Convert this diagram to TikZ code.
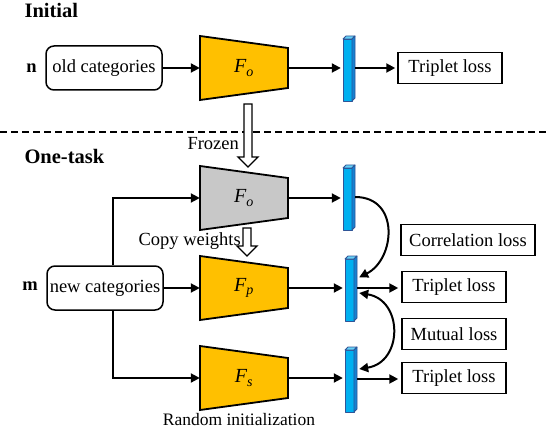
\documentclass[tikz,border=0pt]{standalone}
\usepackage{fontspec}
\setmainfont{Liberation Serif}
\usepackage{tikz}
\usetikzlibrary{arrows.meta, calc}
\definecolor{encyellow}{RGB}{255,192,0}
\definecolor{encgray}{RGB}{200,200,200}
\definecolor{barblue}{RGB}{0,176,240}
\definecolor{barside}{RGB}{20,130,210}
\definecolor{baredge}{RGB}{47,85,151}
\tikzset{%
    % encoder, feature bar and hollow arrow looks
    encoder/.style = {draw=black, line width=1.8pt, line join=miter},
    barface/.style = {draw=baredge, line width=0.8pt, line join=round},
    hollow/.style  = {draw=black, line width=1.4pt, fill=white, line join=miter},
    % Label style
    heading/.style = {font=\fontsize{20.5}{24}\selectfont\bfseries, anchor=base west},
    % boxes
    catbox/.style  = {draw, line width=1.5pt, rounded corners=8pt, minimum width=116,
    minimum height=44, inner sep=1pt},
    lossbox/.style = {draw, line width=1.5pt, minimum height=31, inner sep=0pt}
}
% encoder : name, x, y, colour, subscript
\newcommand{\encoder}[5]{%
    \filldraw[encoder, fill=#4] (#2-44,#3-32) -- (#2+44,#3-20) -- (#2+44,#3+20)
        -- (#2-44,#3+32) -- cycle;
    \node[inner sep=0pt, minimum width=88, minimum height=64,
        font=\fontsize{20}{24}\selectfont] (#1) at (#2,#3) {\textit{F}\textsubscript{\textit{#5}}};
}
% feature bar : name, x, y
\newcommand{\featbar}[3]{%
    \filldraw[barface, fill=barblue] (#2-6,#3-29) rectangle (#2+3,#3+33);
    \filldraw[barface, fill=barblue!60!white] (#2-6,#3-29) -- (#2-3,#3-32) -- (#2+6,#3-32)
        -- (#2+3,#3-29) -- cycle;
    \filldraw[barface, fill=barside] (#2+3,#3-29) -- (#2+6,#3-32) -- (#2+6,#3+30)
        -- (#2+3,#3+33) -- cycle;
    \node[inner sep=0pt, minimum width=12, minimum height=65] (#1) at (#2,#3) {};
}
% hollow down arrow : x, top, tip
\newcommand{\hollowdown}[3]{%
    \filldraw[hollow] (#1-4,#2) -- (#1+4,#2) -- (#1+4,#3-10) -- (#1+10,#3-10) -- (#1,#3)
        -- (#1-10,#3-10) -- (#1-4,#3-10) -- cycle;
}

\begin{document}
\begin{tikzpicture}[x=1pt, y=-1pt, font=\fontsize{18.5}{22}\selectfont]

	\tikzstyle{arc}=[-{Triangle[length=9pt,width=9pt]}, line width=2pt, black]
	\tikzstyle{arcs}=[{Triangle[length=9pt,width=9pt]}-{Triangle[length=9pt,width=9pt]}, line width=2pt, black]

	\useasboundingbox (0,0) rectangle (548,430);

	% Initial
	\node[heading] (initial) at (21,18) {Initial};
	\node[anchor=base, font=\fontsize{18.5}{22}\selectfont\bfseries] (lbln) at (31.5,73) {n};
	\node[catbox] (oldcat) at (104,68) {old categories};
	\encoder{fo}{244}{68}{encyellow}{o}
	\featbar{bar0}{349}{68}
	\node[lossbox, minimum width=104] (loss0) at (450,68) {Triplet loss};
	\draw[arc] (oldcat.east) -- (fo.west);
	\draw[arc, shorten >=2pt] (fo.east) -- (fo.east -| bar0.west);
	\draw[arc, shorten >=2pt] (bar0.east) -- (loss0.west);

	\draw[line width=2pt, dash pattern=on 7pt off 4pt] (0,132) -- (548,132);

	% One-task
	\node[heading] (onetask) at (21,164) {One-task};
	\node[anchor=base west] (frozen) at (184,150) {Frozen};
	\hollowdown{248}{104}{167}
	\encoder{fo2}{244}{198}{encgray}{o}
	\node[anchor=base west] (copyw) at (135,245) {Copy weights};
	\hollowdown{247}{228}{256}
	\encoder{fp}{244}{288}{encyellow}{p}
	\encoder{fs}{244}{378}{encyellow}{s}
	\node[anchor=base, font=\fontsize{17.5}{21}\selectfont] (randinit) at (239,425) {Random initialization};

	\node[anchor=base, font=\fontsize{18.5}{22}\selectfont\bfseries] (lblm) at (30,290) {m};
	\node[catbox] (newcat) at (105,288) {new categories};
	\draw[arc] ([xshift=8pt]newcat.north) |- (fo2.west);
	\draw[arc] (newcat.east) -- (fp.west);
	\draw[arc] ([xshift=8pt]newcat.south) |- (fs.west);

	\featbar{bar1}{349}{197}
	\featbar{bar2}{351}{288}
	\featbar{bar3}{351}{379}
	\draw[arc, shorten >=2pt] (fo2.east) -- (fo2.east -| bar1.west);
	\draw[arc, shorten >=2pt] (fp.east) -- (fp.east -| bar2.west);
	\draw[arc, shorten >=2pt] (fs.east) -- (fs.east -| bar3.west);

	\node[lossbox, minimum width=134] (corr) at (468,240) {Correlation loss};
	\node[lossbox, minimum width=104] (loss1) at (454,287) {Triplet loss};
	\node[lossbox, minimum width=104] (mutual) at (454,334) {Mutual loss};
	\node[lossbox, minimum width=104] (loss2) at (454,378) {Triplet loss};
	\draw[arc, shorten >=3pt] (bar2.east) -- (bar2.east -| loss1.west);
	\draw[arc, shorten >=3pt] (bar3.east) -- (bar3.east -| loss2.west);

	% correlation and mutual links
	\draw[arc] (bar1.east) .. controls +(45,0) and +(36,-18) .. ($(bar2.north east)+(2,22)$);
	\draw[arcs] ($(bar2.east)+(2,5)$) .. controls +(44,7) and +(44,-7) .. ($(bar3.east)+(2,-10)$);

\end{tikzpicture}
\end{document}
